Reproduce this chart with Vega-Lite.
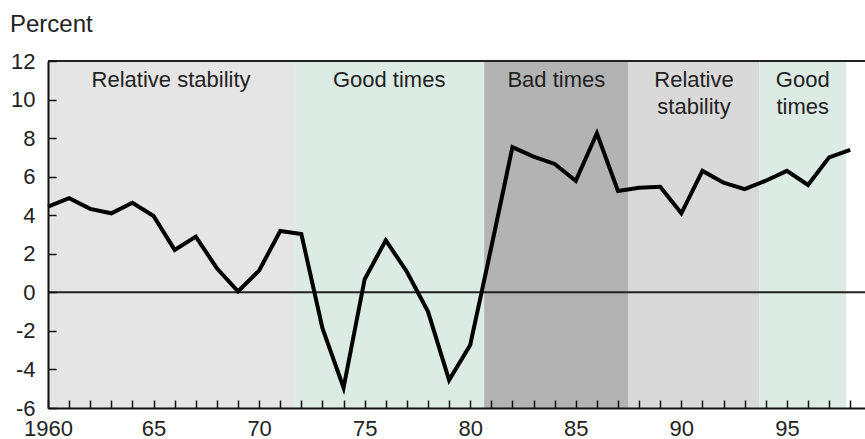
{
  "$schema": "https://vega.github.io/schema/vega-lite/v6.json",
  "width": 817,
  "height": 347,
  "autosize": {"type": "none"},
  "padding": {"left": 48, "top": 61, "right": 0, "bottom": 31},
  "background": "white",
  "title": {
    "text": "Percent",
    "anchor": "start",
    "frame": "group",
    "dx": -38,
    "offset": -6,
    "baseline": "alphabetic",
    "font": "Liberation Sans",
    "fontSize": 24,
    "fontWeight": "normal",
    "color": "#222222"
  },
  "config": {
    "view": {"stroke": null},
    "axis": {
      "labelFont": "Liberation Sans",
      "labelFontSize": 22,
      "labelColor": "#222222",
      "domainColor": "#111111",
      "domainWidth": 2,
      "tickColor": "#111111",
      "tickWidth": 1.5,
      "grid": false,
      "title": null
    }
  },
  "datasets": {
    "series": [
      {"year": 1960, "value": 4.45}, {"year": 1961, "value": 4.88}, {"year": 1962, "value": 4.33},
      {"year": 1963, "value": 4.10}, {"year": 1964, "value": 4.65}, {"year": 1965, "value": 3.96},
      {"year": 1966, "value": 2.20}, {"year": 1967, "value": 2.89}, {"year": 1968, "value": 1.25},
      {"year": 1969, "value": 0.05}, {"year": 1970, "value": 1.13}, {"year": 1971, "value": 3.18},
      {"year": 1972, "value": 3.03}, {"year": 1973, "value": -1.86}, {"year": 1974, "value": -4.95},
      {"year": 1975, "value": 0.68}, {"year": 1976, "value": 2.70}, {"year": 1977, "value": 1.07},
      {"year": 1978, "value": -1.00}, {"year": 1979, "value": -4.55}, {"year": 1980, "value": -2.73},
      {"year": 1981, "value": 2.35}, {"year": 1982, "value": 7.53}, {"year": 1983, "value": 7.04},
      {"year": 1984, "value": 6.66}, {"year": 1985, "value": 5.79}, {"year": 1986, "value": 8.25},
      {"year": 1987, "value": 5.26}, {"year": 1988, "value": 5.43}, {"year": 1989, "value": 5.48},
      {"year": 1990, "value": 4.10}, {"year": 1991, "value": 6.30}, {"year": 1992, "value": 5.69},
      {"year": 1993, "value": 5.35}, {"year": 1994, "value": 5.79}, {"year": 1995, "value": 6.30},
      {"year": 1996, "value": 5.57}, {"year": 1997, "value": 7.00}, {"year": 1998, "value": 7.39}
    ],
    "bands": [
      {"band": "b1", "start": 1960, "end": 1971.66, "label": "Relative stability"},
      {"band": "b2", "start": 1971.66, "end": 1980.66, "label": "Good times"},
      {"band": "b3", "start": 1980.66, "end": 1987.5, "label": "Bad times"},
      {"band": "b4", "start": 1987.5, "end": 1993.7, "label": "Relative\nstability"},
      {"band": "b5", "start": 1993.7, "end": 1997.8, "label": "Good\ntimes"}
    ],
    "levels": [
      {"level": 0},
      {"level": 12}
    ]
  },
  "layer": [
    {
      "data": {"name": "bands"},
      "mark": {"type": "rect"},
      "encoding": {
        "x": {
          "field": "start", "type": "quantitative",
          "scale": {"domain": [1960, 1998.7], "nice": false, "zero": false},
          "axis": {
            "values": [1960,1961,1962,1963,1964,1965,1966,1967,1968,1969,1970,1971,1972,1973,1974,1975,1976,1977,1978,1979,1980,1981,1982,1983,1984,1985,1986,1987,1988,1989,1990,1991,1992,1993,1994,1995,1996,1997,1998],
            "labelExpr": "datum.value == 1960 ? '1960' : (datum.value % 5 == 0 ? substring(toString(datum.value), 2) : '')",
            "tickSize": -8, "labelPadding": 18, "labelDx": 5, "labelBaseline": "top",
            "labelFlush": false, "labelOverlap": false, "zindex": 1
          }
        },
        "x2": {"field": "end"},
        "color": {
          "field": "band", "type": "nominal", "legend": null,
          "scale": {"domain": ["b1","b2","b3","b4","b5"], "range": ["#e5e5e5","#dcebe4","#b3b3b3","#d9d9d9","#dcebe4"]}
        }
      }
    },
    {
      "data": {"name": "bands"},
      "transform": [{"calculate": "(datum.start + datum.end) / 2", "as": "mid"}],
      "mark": {"type": "text", "font": "Liberation Sans", "fontSize": 22, "color": "#222222", "baseline": "top", "align": "center", "lineBreak": "\n", "lineHeight": 27, "dy": 9},
      "encoding": {
        "x": {
          "field": "mid", "type": "quantitative",
          "axis": {
            "values": [1960,1961,1962,1963,1964,1965,1966,1967,1968,1969,1970,1971,1972,1973,1974,1975,1976,1977,1978,1979,1980,1981,1982,1983,1984,1985,1986,1987,1988,1989,1990,1991,1992,1993,1994,1995,1996,1997,1998],
            "labelExpr": "datum.value == 1960 ? '1960' : (datum.value % 5 == 0 ? substring(toString(datum.value), 2) : '')",
            "tickSize": -8, "labelPadding": 18, "labelDx": 5, "labelBaseline": "top",
            "labelFlush": false, "labelOverlap": false, "zindex": 1
          }
        },
        "y": {
          "datum": 12,
          "axis": {
            "values": [-6,-4,-2,0,2,4,6,8,10,12],
            "labelExpr": "'' + datum.value",
            "tickSize": -8, "labelPadding": 21, "labelDy": 2, "labelFlush": false, "labelOverlap": false, "zindex": 1
          }
        },
        "text": {"field": "label"}
      }
    },
    {
      "data": {"name": "levels"},
      "mark": {"type": "rule", "color": "#222222", "strokeWidth": 2},
      "encoding": {
        "y": {
          "field": "level", "type": "quantitative",
          "axis": {
            "values": [-6,-4,-2,0,2,4,6,8,10,12],
            "labelExpr": "'' + datum.value",
            "tickSize": -8, "labelPadding": 21, "labelDy": 2, "labelFlush": false, "labelOverlap": false, "zindex": 1
          }
        }
      }
    },
    {
      "data": {"name": "series"},
      "mark": {"type": "line", "color": "#000000", "strokeWidth": 4, "strokeJoin": "miter"},
      "encoding": {
        "x": {
          "field": "year", "type": "quantitative",
          "axis": {
            "values": [1960,1961,1962,1963,1964,1965,1966,1967,1968,1969,1970,1971,1972,1973,1974,1975,1976,1977,1978,1979,1980,1981,1982,1983,1984,1985,1986,1987,1988,1989,1990,1991,1992,1993,1994,1995,1996,1997,1998],
            "labelExpr": "datum.value == 1960 ? '1960' : (datum.value % 5 == 0 ? substring(toString(datum.value), 2) : '')",
            "tickSize": -8, "labelPadding": 18, "labelDx": 5, "labelBaseline": "top",
            "labelFlush": false, "labelOverlap": false, "zindex": 1
          }
        },
        "y": {
          "field": "value", "type": "quantitative",
          "scale": {"domain": [-6, 12], "nice": false, "zero": false},
          "axis": {
            "values": [-6,-4,-2,0,2,4,6,8,10,12],
            "labelExpr": "'' + datum.value",
            "tickSize": -8, "labelPadding": 21, "labelDy": 2, "labelFlush": false, "labelOverlap": false, "zindex": 1
          }
        }
      }
    }
  ]
}
